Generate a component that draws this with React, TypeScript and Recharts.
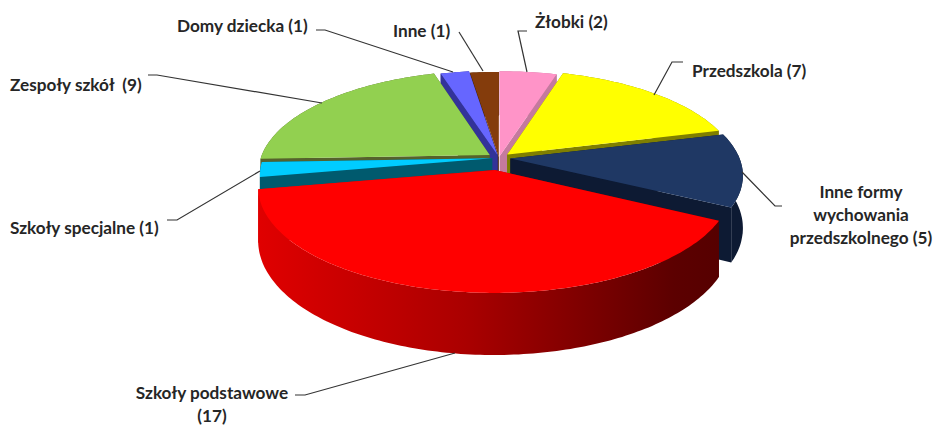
import { PieChart, Pie } from "recharts"

const categories = [
  "Żłobki",
  "Przedszkola",
  "Inne formy wychowania przedszkolnego",
  "Szkoły podstawowe",
  "Szkoły specjalne",
  "Zespoły szkół",
  "Domy dziecka",
  "Inne"
]
const counts = [2, 7, 5, 17, 1, 9, 1, 1]

const rows = categories.map((name, i) => ({ name, value: counts[i] }))
const total = counts.reduce((sum, n) => sum + n, 0)

// right side goes clockwise from 12 o'clock, left side counter-clockwise,
// so the slices paint back to front and the red one ends up on top
const rightRows = rows.slice(0, 4)
const leftRows = rows.slice(4).reverse()
const rightSweep = (rightRows.reduce((s, r) => s + r.value, 0) / total) * 360
const leftSweep = 360 - rightSweep

const COLORS: Record<string, { top: string; side: string; explode: number }> = {
  "Żłobki": { top: "#ff94c8", side: "#c57a9e", explode: 0.02 },
  "Przedszkola": { top: "#ffff00", side: "#7f7f00", explode: 0.05 },
  "Inne formy wychowania przedszkolnego": { top: "#1f3864", side: "#0d1a33", explode: 0.05 },
  "Szkoły podstawowe": { top: "#ff0000", side: "url(#redWall)", explode: 0.12 },
  "Szkoły specjalne": { top: "#00ccff", side: "#005a6e", explode: 0.03 },
  "Zespoły szkół": { top: "#92d050", side: "#55622c", explode: 0.05 },
  "Domy dziecka": { top: "#6666ff", side: "#333399", explode: 0.03 },
  "Inne": { top: "#843c0c", side: "#4a2207", explode: 0.01 }
}

const LABELS: Record<string, { lines: string[]; x: number; y: number; anchor: string; leader: string }> = {
  "Żłobki": { lines: ["Żłobki (2)"], x: 535, y: 28, anchor: "start", leader: "527,31 518,31 527,72" },
  "Przedszkola": { lines: ["Przedszkola (7)"], x: 692, y: 77, anchor: "start", leader: "683,62 672,62 654,95" },
  "Inne formy wychowania przedszkolnego": {
    lines: ["Inne formy", "wychowania", "przedszkolnego (5)"],
    x: 861,
    y: 198,
    anchor: "middle",
    leader: "742,172 775,206 782,206"
  },
  "Szkoły podstawowe": { lines: ["Szkoły podstawowe", "(17)"], x: 212, y: 399, anchor: "middle", leader: "295,395 305,395 455,353" },
  "Szkoły specjalne": { lines: ["Szkoły specjalne (1)"], x: 10, y: 234, anchor: "start", leader: "167,220 177,220 260,171" },
  "Zespoły szkół": { lines: ["Zespoły szkół  (9)"], x: 10, y: 91, anchor: "start", leader: "148,75 157,75 322,103" },
  "Domy dziecka": { lines: ["Domy dziecka (1)"], x: 177, y: 32, anchor: "start", leader: "316,30 325,30 453,72" },
  "Inne": { lines: ["Inne (1)"], x: 393, y: 37, anchor: "start", leader: "459,32 483,71" }
}

// fake 3D: flat disc seen in perspective
const CX = 499
const CY = 158
const RX = 229
const RY = 99
const PERSP = 0.16
const DEPTH = 51

const RAD = Math.PI / 180

function project(u: number, v: number, drop = 0) {
  const k = 1 / (1 - PERSP * v)
  return { x: CX + RX * u * k, y: CY + RY * v * k + drop * k }
}

function toPath(pts: { x: number; y: number }[]) {
  return "M" + pts.map((p) => `${p.x.toFixed(1)},${p.y.toFixed(1)}`).join("L") + "Z"
}

function Slice3D(props: any) {
  const { startAngle, endAngle, midAngle, name } = props
  const style = COLORS[name ?? props.payload?.name]
  const mid = (midAngle ?? (startAngle + endAngle) / 2) * RAD
  const ox = style.explode * Math.cos(mid)
  const oy = -style.explode * Math.sin(mid)

  const steps = Math.max(2, Math.ceil(Math.abs(endAngle - startAngle)))
  const rim: [number, number][] = []
  for (let i = 0; i <= steps; i++) {
    const a = (startAngle + ((endAngle - startAngle) * i) / steps) * RAD
    rim.push([ox + Math.cos(a), oy - Math.sin(a)])
  }

  const top = rim.map(([u, v]) => project(u, v))
  const bottom = rim.map(([u, v]) => project(u, v, DEPTH))
  const tipTop = project(ox, oy)
  const tipBottom = project(ox, oy, DEPTH)
  const last = rim.length - 1

  return (
    <g>
      <path d={toPath([tipTop, top[0], bottom[0], tipBottom])} fill={style.side} />
      <path d={toPath([tipTop, top[last], bottom[last], tipBottom])} fill={style.side} />
      <path d={toPath([...top, ...[...bottom].reverse()])} fill={style.side} />
      <path d={toPath([tipTop, ...top])} fill={style.top} />
    </g>
  )
}

function SliceLabel(props: any) {
  const label = LABELS[props.name ?? props.payload?.name]
  return (
    <g>
      <polyline points={label.leader} fill="none" stroke="#333" strokeWidth={1.2} />
      <text
        x={label.x}
        y={label.y}
        textAnchor={label.anchor as any}
        fontFamily="Lato, sans-serif"
        fontWeight={700}
        fontSize={17.2}
        fill="#262626"
      >
        {label.lines.map((line, i) => (
          <tspan key={i} x={label.x} dy={i === 0 ? 0 : 23} xmlSpace="preserve">
            {line}
          </tspan>
        ))}
      </text>
    </g>
  )
}

export default function App() {
  return (
    <div style={{ position: "absolute", left: 0, top: 0 }}>
      <PieChart width={934} height={425} margin={{ top: 0, right: 0, bottom: 0, left: 0 }}>
        <defs>
          <linearGradient id="redWall" gradientUnits="userSpaceOnUse" x1={258} y1={0} x2={720} y2={0}>
            <stop offset="0%" stopColor="#e00000" />
            <stop offset="45%" stopColor="#aa0000" />
            <stop offset="90%" stopColor="#5c0000" />
            <stop offset="100%" stopColor="#560000" />
          </linearGradient>
        </defs>
        <Pie
          data={leftRows}
          dataKey="value"
          nameKey="name"
          cx={CX}
          cy={CY}
          outerRadius={100}
          startAngle={90}
          endAngle={90 + leftSweep}
          stroke="none"
          shape={Slice3D}
          label={SliceLabel}
          labelLine={false}
          isAnimationActive={false}
        />
        <Pie
          data={rightRows}
          dataKey="value"
          nameKey="name"
          cx={CX}
          cy={CY}
          outerRadius={100}
          startAngle={90}
          endAngle={90 - rightSweep}
          stroke="none"
          shape={Slice3D}
          label={SliceLabel}
          labelLine={false}
          isAnimationActive={false}
        />
      </PieChart>
    </div>
  )
}
